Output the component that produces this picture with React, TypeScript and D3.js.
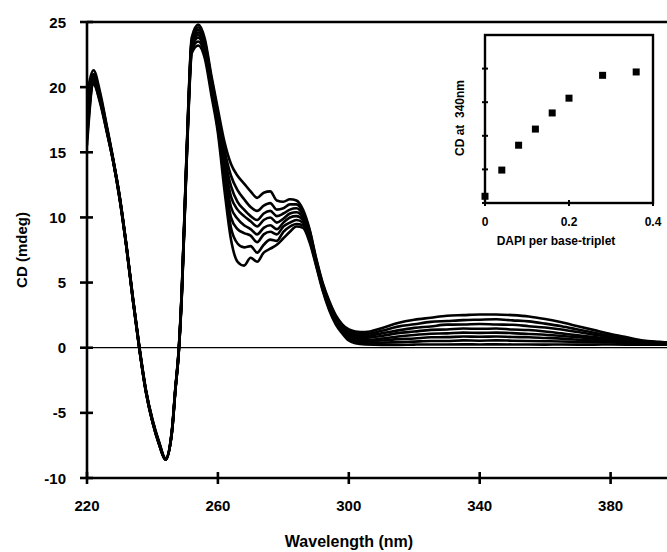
import React, { useEffect, useRef } from 'react';
import * as d3 from 'd3';

// wavelength grid (nm)
const wavelengths = [220, 222, 224, 226, 228, 230, 232, 234, 236, 238, 240, 242,
  244, 246, 247, 248, 249, 250, 251, 252, 254, 256, 258, 260,
  262, 264, 266, 268, 270, 272, 274, 276, 278, 280, 282, 284, 286, 288, 290, 292, 294, 296, 298, 300, 302, 305,
  310, 315, 320, 325, 330, 335, 340, 345, 350, 355, 360, 365, 370, 375, 380, 385, 390, 395, 400];

// CD spectra (mdeg), one per titration step
const cd0 = [19.4, 21.3, 19.6, 17.1, 14.5, 11.6, 8.0, 3.9, 0.1, -3.2, -5.5, -7.2,
  -8.5, -6.2, -3.1, -0.2, 4.7, 11.8, 18.9, 23.8, 24.8, 23.7, 20.9, 18.3,
  15.8, 14.1, 13.2, 12.6, 12.0, 11.5, 11.9, 12.0, 11.3, 11.2, 11.4, 11.3, 10.6, 9.1, 6.9, 5.0, 3.6, 2.5, 1.8, 1.4, 1.25, 1.2,
  1.5, 1.9, 2.15, 2.3, 2.45, 2.5, 2.55, 2.55, 2.5, 2.4, 2.2, 1.95, 1.65, 1.35, 1.05, 0.8, 0.55, 0.45, 0.35];
const cd1 = [18.8, 21.0, 19.4, 17.0, 14.4, 11.6, 7.9, 3.9, 0.0, -3.3, -5.6, -7.3,
  -8.5, -6.2, -3.1, -0.3, 4.6, 11.7, 18.8, 23.6, 24.6, 23.5, 20.7, 18.0,
  15.2, 13.2, 12.1, 11.4, 10.8, 10.5, 10.9, 11.1, 10.6, 10.7, 11.0, 11.0, 10.4, 9.0, 6.8, 4.9, 3.5, 2.4, 1.7, 1.3, 1.1, 1.05,
  1.3, 1.62, 1.8, 1.98, 2.05, 2.12, 2.15, 2.18, 2.1, 2.02, 1.85, 1.65, 1.4, 1.15, 0.9, 0.7, 0.5, 0.42, 0.35];
const cd2 = [18.2, 20.9, 19.3, 16.9, 14.4, 11.5, 7.9, 3.8, 0.0, -3.3, -5.6, -7.3,
  -8.5, -6.3, -3.2, -0.3, 4.5, 11.6, 18.6, 23.5, 24.4, 23.3, 20.5, 17.8,
  14.7, 12.4, 11.2, 10.6, 10.1, 9.8, 10.3, 10.5, 10.1, 10.3, 10.6, 10.7, 10.2, 8.9, 6.7, 4.8, 3.4, 2.3, 1.6, 1.15, 0.95, 0.9,
  1.1, 1.33, 1.52, 1.63, 1.77, 1.78, 1.82, 1.78, 1.76, 1.65, 1.55, 1.4, 1.2, 1.0, 0.8, 0.62, 0.48, 0.4, 0.33];
const cd3 = [17.6, 20.7, 19.2, 16.9, 14.4, 11.5, 7.9, 3.8, 0.0, -3.3, -5.6, -7.3,
  -8.6, -6.3, -3.2, -0.4, 4.5, 11.5, 18.5, 23.3, 24.2, 23.1, 20.3, 17.6,
  14.2, 11.6, 10.6, 10.1, 9.7, 9.3, 9.8, 10.0, 9.6, 9.9, 10.3, 10.4, 10.0, 8.8, 6.6, 4.8, 3.3, 2.2, 1.5, 1.0, 0.8, 0.75,
  0.9, 1.12, 1.24, 1.37, 1.4, 1.47, 1.45, 1.47, 1.4, 1.36, 1.25, 1.1, 0.95, 0.82, 0.68, 0.55, 0.45, 0.38, 0.32];
const cd4 = [17.0, 20.6, 19.1, 16.8, 14.4, 11.5, 7.9, 3.8, 0.0, -3.3, -5.6, -7.3,
  -8.6, -6.3, -3.2, -0.4, 4.4, 11.4, 18.4, 23.2, 24.0, 22.9, 20.1, 17.3,
  13.7, 10.8, 9.9, 9.4, 9.1, 8.7, 9.2, 9.4, 9.1, 9.6, 10.0, 10.1, 9.8, 8.7, 6.6, 4.7, 3.2, 2.1, 1.4, 0.9, 0.7, 0.6,
  0.7, 0.86, 0.98, 1.07, 1.1, 1.16, 1.14, 1.16, 1.12, 1.05, 1.0, 0.9, 0.8, 0.7, 0.6, 0.5, 0.42, 0.36, 0.3];
const cd5 = [16.5, 20.4, 19.0, 16.7, 14.3, 11.4, 7.8, 3.7, -0.1, -3.4, -5.7, -7.4,
  -8.6, -6.4, -3.3, -0.5, 4.3, 11.3, 18.2, 23.0, 23.8, 22.7, 19.9, 17.1,
  13.3, 10.0, 9.1, 8.8, 8.6, 8.1, 8.7, 8.9, 8.7, 9.3, 9.6, 9.8, 9.6, 8.5, 6.5, 4.6, 3.1, 2.0, 1.3, 0.8, 0.55, 0.5,
  0.55, 0.66, 0.71, 0.8, 0.81, 0.86, 0.84, 0.86, 0.82, 0.8, 0.75, 0.7, 0.62, 0.55, 0.5, 0.44, 0.38, 0.34, 0.3];
const cd6 = [16.0, 20.3, 18.9, 16.7, 14.3, 11.4, 7.8, 3.7, -0.1, -3.4, -5.7, -7.4,
  -8.6, -6.4, -3.3, -0.5, 4.2, 11.2, 18.1, 22.8, 23.5, 22.5, 19.7, 16.8,
  12.7, 9.2, 8.0, 7.7, 7.8, 7.3, 7.9, 8.3, 8.2, 8.9, 9.3, 9.5, 9.4, 8.3, 6.4, 4.5, 3.0, 1.9, 1.2, 0.65, 0.45, 0.35,
  0.38, 0.43, 0.47, 0.51, 0.52, 0.56, 0.54, 0.56, 0.54, 0.52, 0.5, 0.48, 0.45, 0.42, 0.4, 0.37, 0.34, 0.31, 0.28];
const cd7 = [15.5, 20.2, 18.8, 16.6, 14.3, 11.4, 7.8, 3.7, -0.1, -3.4, -5.7, -7.4,
  -8.6, -6.4, -3.3, -0.5, 4.1, 11.1, 17.9, 22.6, 23.2, 22.2, 19.4, 16.5,
  12.1, 8.3, 6.6, 6.3, 6.9, 6.6, 7.3, 7.6, 7.9, 8.4, 8.9, 9.3, 9.2, 8.1, 6.3, 4.4, 2.9, 1.8, 1.1, 0.55, 0.35, 0.25,
  0.22, 0.22, 0.24, 0.25, 0.25, 0.26, 0.25, 0.26, 0.25, 0.25, 0.24, 0.25, 0.24, 0.24, 0.25, 0.24, 0.24, 0.23, 0.22];
const spectra = [cd0, cd1, cd2, cd3, cd4, cd5, cd6, cd7];

const xTicks = [220, 260, 300, 340, 380];
const yTicks = [-10, -5, 0, 5, 10, 15, 20, 25];

// inset: CD at 340 nm vs DAPI per base-triplet
const dapiRatio = [0, 0.04, 0.08, 0.12, 0.16, 0.2, 0.28, 0.36];
const cd340 = [0.1, 0.49, 0.86, 1.1, 1.34, 1.56, 1.9, 1.95];
const insetXTicks = [0, 0.2, 0.4];
const insetYTicks = [0, 0.5, 1, 1.5, 2];

const FONT = '"Liberation Sans", Arial, Helvetica, sans-serif';

const App = () => {
  const ref = useRef<SVGSVGElement | null>(null);

  useEffect(() => {
    if (!ref.current) return;
    const svg = d3.select(ref.current);
    svg.selectAll('*').remove();

    const left = 87, top = 22, bottom = 478;
    const x = d3.scaleLinear().domain([220, 400]).range([left, left + 180 * 130.9 / 40]);
    const y = d3.scaleLinear().domain([-10, 25]).range([bottom, top]);

    svg.append('defs').append('clipPath').attr('id', 'plot-clip')
      .append('rect').attr('x', left).attr('y', top - 5).attr('width', 667 - left).attr('height', bottom - top + 5);

    // zero line
    svg.append('line')
      .attr('x1', left).attr('x2', 667).attr('y1', y(0)).attr('y2', y(0))
      .attr('stroke', '#000').attr('stroke-width', 1.3);

    // spectra
    const line = d3.line<number>()
      .x((_, i) => x(wavelengths[i]))
      .y(d => y(d))
      .curve(d3.curveMonotoneX);

    svg.append('g').attr('clip-path', 'url(#plot-clip)')
      .selectAll('path')
      .data(spectra)
      .enter().append('path')
      .attr('d', d => line(d))
      .attr('fill', 'none')
      .attr('stroke', '#000')
      .attr('stroke-width', 2.6)
      .attr('stroke-linejoin', 'round');

    // frame / axes
    const axisG = svg.append('g').attr('stroke', '#000').attr('stroke-width', 2.6);
    axisG.append('line').attr('x1', left).attr('x2', 667).attr('y1', top).attr('y2', top);
    axisG.append('line').attr('x1', left).attr('x2', left).attr('y1', top).attr('y2', bottom);
    axisG.append('line').attr('x1', left).attr('x2', 667).attr('y1', bottom).attr('y2', bottom);

    axisG.selectAll('.ytick').data(yTicks).enter().append('line')
      .attr('x1', left - 7).attr('x2', left + 6)
      .attr('y1', d => y(d)).attr('y2', d => y(d));
    axisG.selectAll('.xtick').data(xTicks).enter().append('line')
      .attr('x1', d => x(d)).attr('x2', d => x(d))
      .attr('y1', bottom - 6).attr('y2', bottom + 6);

    const text = svg.append('g')
      .attr('font-family', FONT).attr('font-weight', 'bold').attr('fill', '#000');

    text.selectAll('.ylab').data(yTicks).enter().append('text')
      .attr('x', 66).attr('y', d => y(d) + 5.5)
      .attr('text-anchor', 'end').attr('font-size', 15)
      .text(d => d);

    text.selectAll('.xlab').data(xTicks).enter().append('text')
      .attr('x', d => x(d)).attr('y', 511)
      .attr('text-anchor', 'middle').attr('font-size', 15)
      .text(d => d);

    text.append('text')
      .attr('x', 349).attr('y', 547)
      .attr('text-anchor', 'middle').attr('font-size', 16)
      .text('Wavelength (nm)');

    text.append('text')
      .attr('transform', `translate(27,250) rotate(-90)`)
      .attr('text-anchor', 'middle').attr('font-size', 15)
      .text('CD (mdeg)');

    // inset
    const ix = d3.scaleLinear().domain([0, 0.4]).range([485, 653]);
    const iy = d3.scaleLinear().domain([0, 2.5]).range([203, 35]);
    const inset = svg.append('g');
    inset.append('rect')
      .attr('x', ix(0)).attr('y', iy(2.5))
      .attr('width', ix(0.4) - ix(0)).attr('height', iy(0) - iy(2.5))
      .attr('fill', 'none').attr('stroke', '#000').attr('stroke-width', 2.4);

    inset.selectAll('.iyt').data(insetYTicks).enter().append('line')
      .attr('x1', ix(0) - 3).attr('x2', ix(0) + 3)
      .attr('y1', d => iy(d)).attr('y2', d => iy(d))
      .attr('stroke', '#000').attr('stroke-width', 2);
    inset.selectAll('.ixt').data(insetXTicks).enter().append('line')
      .attr('x1', d => ix(d)).attr('x2', d => ix(d))
      .attr('y1', iy(0) - 3).attr('y2', iy(0) + 3)
      .attr('stroke', '#000').attr('stroke-width', 2);

    inset.selectAll('rect.pt').data(dapiRatio).enter().append('rect')
      .attr('class', 'pt')
      .attr('x', (d) => ix(d) - 3.5)
      .attr('y', (_, i) => iy(cd340[i]) - 3.5)
      .attr('width', 7).attr('height', 7)
      .attr('fill', '#000');

    text.selectAll('.ixl').data(insetXTicks).enter().append('text')
      .attr('x', d => ix(d)).attr('y', 226)
      .attr('text-anchor', 'middle').attr('font-size', 12)
      .text(d => d);

    text.append('text')
      .attr('x', 556).attr('y', 245)
      .attr('text-anchor', 'middle').attr('font-size', 12)
      .text('DAPI per base-triplet');

    text.append('text')
      .attr('transform', `translate(464,118) rotate(-90)`)
      .attr('text-anchor', 'middle').attr('font-size', 12)
      .attr('xml:space', 'preserve')
      .style('white-space', 'pre')
      .text('CD at  340nm');
  }, []);

  return (
    <svg
      ref={ref}
      width={667}
      height={552}
      style={{ position: 'absolute', left: 0, top: 0, background: '#fff' }}
    />
  );
};

export default App;
